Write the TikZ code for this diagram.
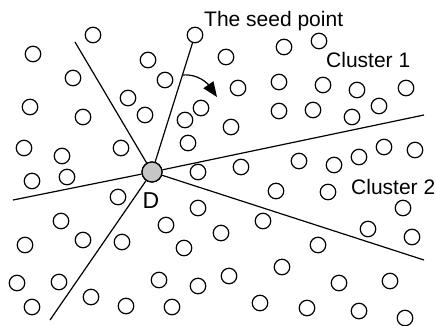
\documentclass[tikz,border=0pt]{standalone}
\usepackage{fontspec}
\setmainfont{Liberation Sans}
\usepackage{tikz}
\usetikzlibrary{arrows.meta}
\tikzstyle{pt} = [circle, draw=black, line width=1.2pt, minimum size=15.5pt, inner sep=0pt, fill=white]
\tikzstyle{seedpt} = [circle, draw=black, line width=1.2pt, minimum size=20pt, inner sep=0pt, fill=gray!45]
\tikzstyle{cut} = [draw=black, line width=1.2pt]
\tikzstyle{lbl} = [inner sep=0pt, anchor=base west, font=\fontsize{21}{25}\selectfont]

\begin{document}
\begin{tikzpicture}[x=1pt, y=-1pt]
\useasboundingbox (0,0) rectangle (436,325);

% Cutting line ends
\coordinate (e1) at (75,42);
\coordinate (e3) at (13,200);
\coordinate (e4) at (50,320);
\coordinate (e5) at (424,115);
\coordinate (e6) at (424,260);
% Arrow ends
\coordinate (a0) at (182.5,75);
\coordinate (a1) at (217,97);
% The point D and the seed point
\node[seedpt] (D) at (152,172) {};
\node[pt] (seed) at (195,35) {};
% Lines through D
\draw[cut] (D) -- (e1);
\draw[cut] (D) -- (seed);
\draw[cut] (D) -- (e3);
\draw[cut] (D) -- (e4);
\draw[cut] (D) -- (e5);
\draw[cut] (D) -- (e6);
\node[seedpt] at (D) {};
% Turning arrow
\draw[cut, -{Triangle[length=15pt, width=12pt]}] (a0) to[out=5, in=125] (a1);
% Points, upper left
\node[pt] (p1) at (93,35) {};
\node[pt] (p3) at (33,54) {};
\node[pt] (p4) at (148,60) {};
\node[pt] (p5) at (73,78) {};
\node[pt] (p6) at (165,80) {};
\node[pt] (p7) at (30,107) {};
\node[pt] (p8) at (128,98) {};
\node[pt] (p9) at (83,117) {};
\node[pt] (p10) at (145,115) {};
\node[pt] (p11) at (201,108) {};
\node[pt] (p12) at (185,120) {};
\node[pt] (p13) at (188,143) {};
\node[pt] (p14) at (24,148) {};
\node[pt] (p15) at (62,156) {};
\node[pt] (p16) at (121,148) {};
% Points, upper right (Cluster 1)
\node[pt] (p17) at (226,57) {};
\node[pt] (p18) at (284,47) {};
\node[pt] (p19) at (319,41) {};
\node[pt] (p20) at (279,82) {};
\node[pt] (p21) at (323,85) {};
\node[pt] (p22) at (238,88) {};
\node[pt] (p23) at (357,90) {};
\node[pt] (p24) at (406,88) {};
\node[pt] (p25) at (279,111) {};
\node[pt] (p26) at (313,110) {};
\node[pt] (p27) at (379,106) {};
\node[pt] (p28) at (352,117) {};
\node[pt] (p29) at (231,127) {};
% Points, right (Cluster 2)
\node[pt] (p30) at (384,147) {};
\node[pt] (p31) at (415,150) {};
\node[pt] (p32) at (359,157) {};
\node[pt] (p33) at (334,165) {};
\node[pt] (p34) at (299,161) {};
\node[pt] (p35) at (241,167) {};
\node[pt] (p56) at (276,191) {};
\node[pt] (p57) at (328,192) {};
\node[pt] (p58) at (403,208) {};
% Points, left
\node[pt] (p36) at (32,181) {};
\node[pt] (p37) at (67,177) {};
\node[pt] (p38) at (118,197) {};
\node[pt] (p39) at (198,172) {};
% Points, lower left
\node[pt] (p40) at (61,221) {};
\node[pt] (p41) at (198,208) {};
\node[pt] (p42) at (166,225) {};
\node[pt] (p43) at (83,240) {};
\node[pt] (p44) at (122,242) {};
\node[pt] (p45) at (25,245) {};
\node[pt] (p46) at (184,248) {};
\node[pt] (p47) at (221,233) {};
\node[pt] (p48) at (17,283) {};
\node[pt] (p49) at (59,282) {};
\node[pt] (p50) at (159,280) {};
\node[pt] (p51) at (198,286) {};
\node[pt] (p52) at (91,297) {};
\node[pt] (p53) at (32,307) {};
\node[pt] (p54) at (126,306) {};
\node[pt] (p55) at (172,307) {};
% Points, lower right
\node[pt] (p59) at (263,221) {};
\node[pt] (p60) at (368,229) {};
\node[pt] (p61) at (412,237) {};
\node[pt] (p62) at (318,245) {};
\node[pt] (p63) at (229,276) {};
\node[pt] (p64) at (282,267) {};
\node[pt] (p65) at (339,283) {};
\node[pt] (p66) at (390,281) {};
\node[pt] (p67) at (260,303) {};
\node[pt] (p68) at (307,308) {};
\node[pt] (p69) at (359,311) {};
\node[pt] (p70) at (405,318) {};
% Labels
\node[lbl] (tseed) at (204,26) {The seed point};
\node[lbl] (tc1) at (326,67) {Cluster 1};
\node[lbl] (tc2) at (351,194) {Cluster 2};
\node[lbl, anchor=base, font=\fontsize{23}{27}\selectfont] (tD) at (151,208) {D};
\end{tikzpicture}
\end{document}
